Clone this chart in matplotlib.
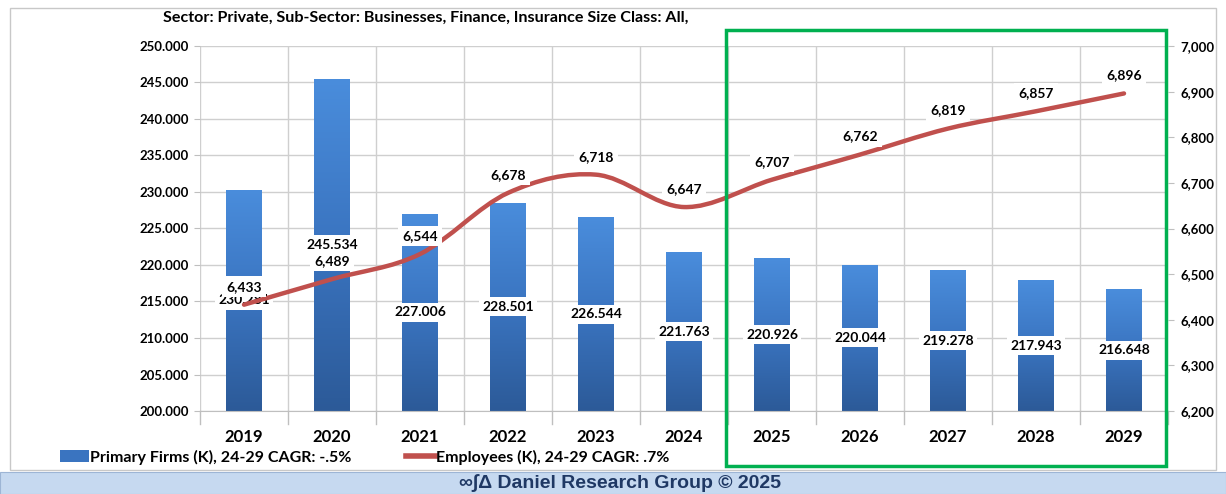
import numpy as np
import matplotlib
matplotlib.use("Agg")
import matplotlib.pyplot as plt
from matplotlib.patches import Rectangle
from matplotlib.path import Path
from matplotlib.patches import PathPatch
from matplotlib.colors import LinearSegmentedColormap
from matplotlib.lines import Line2D

plt.rcParams['font.family'] = ['Lato', 'DejaVu Sans']

years = ['2019', '2020', '2021', '2022', '2023', '2024',
         '2025', '2026', '2027', '2028', '2029']
firms = [230.281, 245.534, 227.006, 228.501, 226.544, 221.763,
         220.926, 220.044, 219.278, 217.943, 216.648]
employees = [6433, 6489, 6544, 6678, 6718, 6647, 6707, 6762, 6819, 6857, 6896]
left_ticks = [200, 205, 210, 215, 220, 225, 230, 235, 240, 245, 250]
right_ticks = [6200, 6300, 6400, 6500, 6600, 6700, 6800, 6900, 7000]

title = 'Sector: Private, Sub-Sector: Businesses, Finance, Insurance Size Class: All,'
firms_label = 'Primary Firms (K), 24-29 CAGR: -.5%'
emp_label = 'Employees (K), 24-29 CAGR: .7%'
footer = '\u221e\u222b\u0394 Daniel Research Group \u00a9 2025'

W, H = 1226, 494
fig = plt.figure(figsize=(W / 100, H / 100), dpi=100)

# outer frame and footer band
fig.patches.append(Rectangle((10 / W, 1 - 470 / H), 1206 / W, 462 / H,
                             transform=fig.transFigure, fill=False,
                             edgecolor='#c8c8c8', lw=1))
fig.patches.append(Rectangle((0, 0), 1, 22 / H, transform=fig.transFigure,
                             facecolor='#c6d9f0', edgecolor='#9db5d5', lw=0.8))
fig.text(620 / W, 11 / H, footer, ha='center', va='center', fontsize=14,
         fontweight='bold', color='#1f3864',
         family=['Liberation Sans', 'DejaVu Sans'])

ax = fig.add_axes([200 / W, 1 - 411 / H, 968 / W, 365 / H])
x = np.arange(len(years))

ax.set_xlim(-0.5, len(years) - 0.5)
ax.set_ylim(200, 250)
ax.set_yticks(left_ticks)
ax.set_yticklabels([f'{v:.3f}' for v in left_ticks], fontsize=9.5, fontweight='bold')
ax.set_xticks(x)
ax.set_xticklabels(years, fontsize=12, fontweight='bold')
ax.tick_params(axis='x', length=0, pad=13)
ax.tick_params(axis='y', length=4, color='#bfbfbf', pad=4)
for s in ['top', 'right', 'left']:
    ax.spines[s].set_visible(False)
ax.spines['bottom'].set_color('#bfbfbf')
ax.grid(axis='y', color='#cfcfcf', lw=1)
ax.set_axisbelow(True)
for b in np.arange(-0.5, len(years), 1.0):
    ax.axvline(b, color='#cfcfcf', lw=1, zorder=0)
    ax.plot([b, b], [0, -0.035], transform=ax.get_xaxis_transform(),
            color='#bfbfbf', lw=1, clip_on=False)

# bars with vertical gradient
grad = LinearSegmentedColormap.from_list('g', ['#2c5a98', '#3a74c0', '#4a8ddc'])
bars = ax.bar(x, [f - 200 for f in firms], width=0.4, bottom=200,
              color='#3a74c0', edgecolor='none', zorder=2)
img = np.linspace(0, 1, 256).reshape(-1, 1)
for b in bars:
    x0, y0 = b.get_x(), b.get_y()
    im = ax.imshow(img, cmap=grad, origin='lower', aspect='auto',
                   extent=[x0, x0 + b.get_width(), y0, y0 + b.get_height()],
                   zorder=2.1)
    im.set_clip_path(b)
ax.set_xlim(-0.5, len(years) - 0.5)
ax.set_ylim(200, 250)
for xi, f in zip(x, firms):
    ax.text(xi, (200 + f) / 2, f'{f:.3f}', ha='center', va='center',
            fontsize=10, fontweight='bold', zorder=3,
            bbox=dict(boxstyle='square,pad=0.25', fc='white', ec='none'))

# smoothed line on the right axis
ax2 = ax.twinx()
ax2.set_ylim(6200, 7000)
ax2.set_yticks(right_ticks)
ax2.set_yticklabels([f'{v:,}' for v in right_ticks], fontsize=9.5, fontweight='bold')
ax2.tick_params(axis='y', length=4, color='#bfbfbf', pad=5)
for s in ax2.spines.values():
    s.set_visible(False)

xs = list(x)
ys = list(employees)
verts = [(xs[0], ys[0])]
codes = [Path.MOVETO]
n = len(xs)
for i in range(n - 1):
    xm, ym = xs[max(i - 1, 0)], ys[max(i - 1, 0)]
    xp, yp = xs[min(i + 2, n - 1)], ys[min(i + 2, n - 1)]
    c1 = (xs[i] + (xs[i + 1] - xm) / 6, ys[i] + (ys[i + 1] - ym) / 6)
    c2 = (xs[i + 1] - (xp - xs[i]) / 6, ys[i + 1] - (yp - ys[i]) / 6)
    verts += [c1, c2, (xs[i + 1], ys[i + 1])]
    codes += [Path.CURVE4] * 3
ax2.add_patch(PathPatch(Path(verts, codes), fill=False, edgecolor='#c0504d',
                        lw=3.2, capstyle='round', zorder=3))
for xi, e in zip(x, employees):
    ax2.annotate(f'{e:,}', (xi, e), xytext=(0, 13), textcoords='offset points',
                 ha='center', va='center', fontsize=10, fontweight='bold',
                 zorder=4,
                 bbox=dict(boxstyle='square,pad=0.3', fc='white', ec='none'))

fig.text(163 / W, 1 - 18 / H, title, ha='left', va='center', fontsize=11.6,
         fontweight='bold')

# forecast highlight box
fig.patches.append(Rectangle((726 / W, 1 - 466 / H), 440 / W, 436 / H,
                             transform=fig.transFigure, fill=False,
                             edgecolor='#00b050', lw=2.5, zorder=10))

handles = [Rectangle((0, 0), 1, 1, fc='#3a74c0', ec='none'),
           Line2D([0], [0], color='#c0504d', lw=4)]
fig.legend(handles, [firms_label, emp_label], loc='center',
           bbox_to_anchor=(365 / W, 1 - 457 / H), ncol=2, frameon=False,
           prop=dict(size=11.5, weight='bold'), handlelength=1.8,
           handletextpad=0.1, columnspacing=3.4)

fig.savefig('out.png', dpi=100)
